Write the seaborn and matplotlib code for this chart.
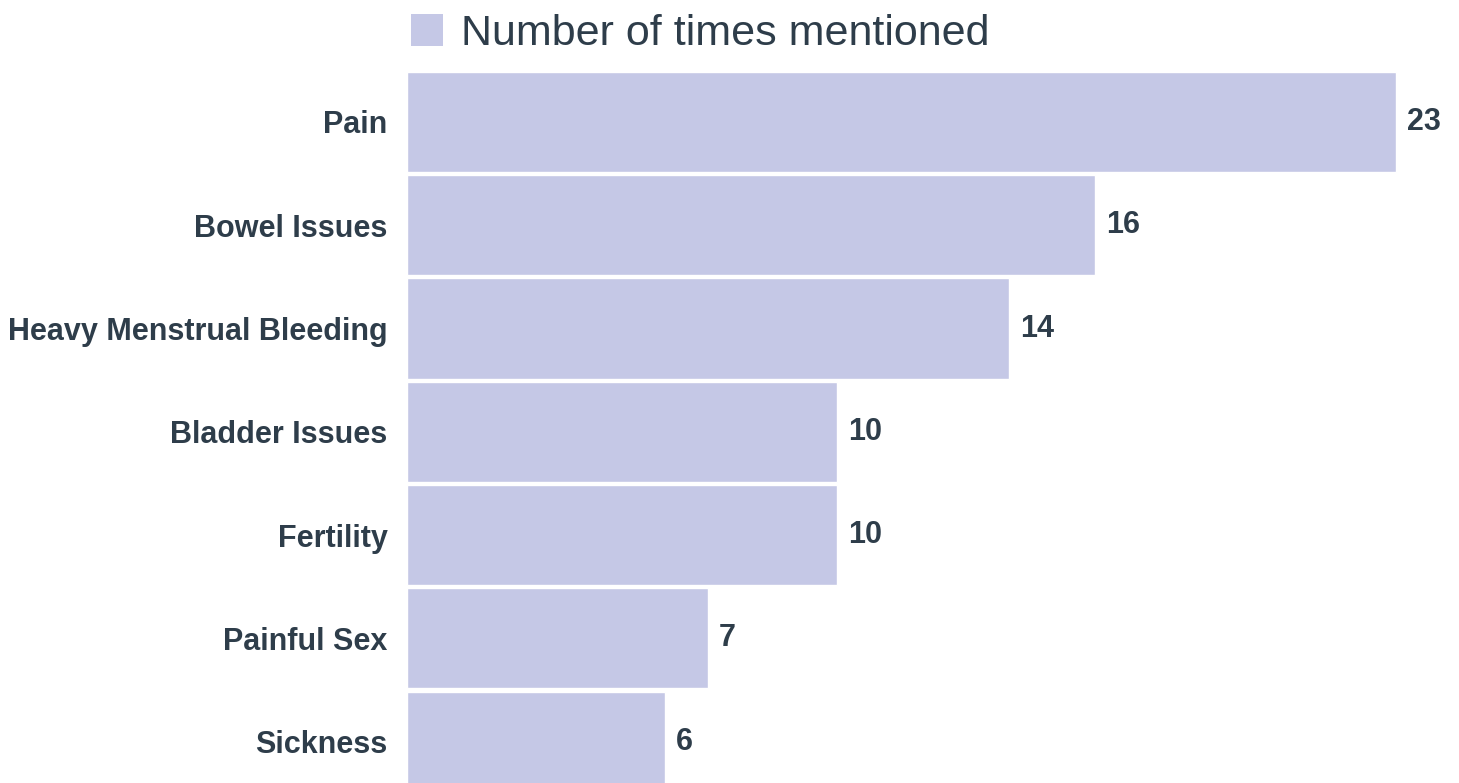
import matplotlib
matplotlib.use("Agg")
import matplotlib.pyplot as plt
import seaborn as sns
from matplotlib.patches import Patch

categories = ["Pain", "Bowel Issues", "Heavy Menstrual Bleeding", "Bladder Issues",
              "Fertility", "Painful Sex", "Sickness"]
values = [23, 16, 14, 10, 10, 7, 6]
series_name = "Number of times mentioned"

BAR = "#c5c8e6"
TXT = "#2e3d4a"

sns.set_theme(style="white")
plt.rcParams["font.family"] = ["Liberation Sans", "DejaVu Sans"]

fig = plt.figure(figsize=(14.59, 7.83), dpi=100)
ax = fig.add_axes([407 / 1459, 0.0, 1 - 407 / 1459, 1.0])

sns.barplot(x=values, y=categories, color=BAR, saturation=1, width=0.97, ax=ax, orient="h")

ax.set_xlim(0, 1052 / 43.0)
ax.set_ylim(6.40, -1.181)
for s in ax.spines.values():
    s.set_visible(False)
ax.set_xticks([])
ax.set_xlabel("")
ax.set_ylabel("")
ax.tick_params(axis="y", length=0, pad=14)
for lab in ax.get_yticklabels():
    lab.set_fontsize(22)
    lab.set_fontweight("bold")
    lab.set_color(TXT)

for c in ax.containers:
    ax.bar_label(c, padding=8, fontsize=22, fontweight="bold", color=TXT)

handle = Patch(facecolor=BAR, edgecolor="none")
fig.legend([handle], [series_name], loc="upper left", bbox_to_anchor=(385 / 1459, 1.015),
           frameon=False, fontsize=31, handlelength=0.75, handleheight=0.75,
           handletextpad=0.42, borderaxespad=0.2, labelcolor=TXT)

fig.savefig("out.png", dpi=100)
